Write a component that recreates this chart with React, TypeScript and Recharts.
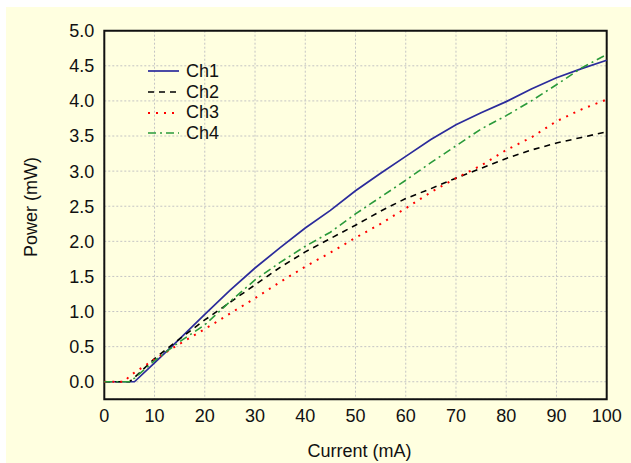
import { LineChart, Line, XAxis, YAxis, CartesianGrid, ReferenceArea, Legend, Label } from 'recharts'

const current = [0, 4, 5, 6, 10, 15, 20, 25, 30, 35, 40, 45, 50, 55, 60, 65, 70, 75, 80, 85, 90, 95, 100]
const ch1 = [0, 0, 0, 0, 0.27, 0.61, 0.96, 1.3, 1.62, 1.91, 2.19, 2.44, 2.72, 2.97, 3.21, 3.45, 3.66, 3.83, 3.99, 4.17, 4.33, 4.46, 4.58]
const ch2 = [0, 0, 0, 0.06, 0.33, 0.61, 0.88, 1.13, 1.38, 1.63, 1.85, 2.04, 2.23, 2.43, 2.61, 2.75, 2.9, 3.04, 3.18, 3.3, 3.4, 3.48, 3.56]
const ch3 = [0, 0, 0.08, 0.13, 0.32, 0.54, 0.75, 0.97, 1.19, 1.42, 1.64, 1.84, 2.05, 2.25, 2.47, 2.7, 2.9, 3.08, 3.3, 3.48, 3.71, 3.88, 4.02]
const ch4 = [0, 0, 0, 0.05, 0.3, 0.57, 0.81, 1.14, 1.45, 1.7, 1.93, 2.13, 2.39, 2.63, 2.87, 3.12, 3.36, 3.6, 3.79, 4.0, 4.23, 4.47, 4.66]

const xTicks = [0, 10, 20, 30, 40, 50, 60, 70, 80, 90, 100]
const yTicks = [0, 0.5, 1, 1.5, 2, 2.5, 3, 3.5, 4, 4.5, 5]

const series = [
  { key: 'Ch1', color: '#2b2b9b', dash: undefined, width: 1.7 },
  { key: 'Ch2', color: '#000000', dash: '6 5', width: 1.6 },
  { key: 'Ch3', color: '#ff0000', dash: '2 6', width: 2 },
  { key: 'Ch4', color: '#2a9a3a', dash: '8 4 2 4', width: 1.6 },
]

const data = current.map((c, i) => ({ current: c, Ch1: ch1[i], Ch2: ch2[i], Ch3: ch3[i], Ch4: ch4[i] }))

const font = '"Liberation Sans", Arial, sans-serif'
const textStyle = { fontSize: 18, fill: '#111', fontFamily: font }

function LegendBox() {
  return (
    <div style={{ fontFamily: font, fontSize: 18, color: '#111' }}>
      {series.map(s => (
        <div key={s.key} style={{ display: 'flex', alignItems: 'center', height: 20.7 }}>
          <svg width={31} height={4} style={{ marginRight: 7 }}>
            <line x1={0} y1={2} x2={31} y2={2} stroke={s.color} strokeWidth={s.width} strokeDasharray={s.dash} />
          </svg>
          <span>{s.key}</span>
        </div>
      ))}
    </div>
  )
}

function YTitle(props: any) {
  const vb = props.viewBox || { x: 38, y: 24, height: 368 }
  const cx = 25
  const cy = vb.y + vb.height / 2 - 8
  return (
    <text x={cx} y={cy} transform={`rotate(-90 ${cx} ${cy})`} textAnchor="middle" dominantBaseline="central" style={textStyle}>
      Power (mW)
    </text>
  )
}

export default function App() {
  return (
    <div style={{ position: 'absolute', left: 6, top: 7, width: 625, height: 456, background: '#ffffe0' }}>
      <LineChart width={625} height={456} data={data} margin={{ top: 23.7, right: 24.3, bottom: 33.7, left: 38.3 }}>
        <CartesianGrid stroke="#c4c4c4" strokeDasharray="2 2" />
        <XAxis
          dataKey="current"
          type="number"
          domain={[0, 100]}
          ticks={xTicks}
          height={30}
          tick={textStyle}
          tickLine={false}
          axisLine={false}
          tickMargin={4}
        >
          <Label value="Current (mA)" position="bottom" offset={15} dx={4} style={textStyle} />
        </XAxis>
        <YAxis
          type="number"
          domain={[-0.25, 5]}
          ticks={yTicks}
          width={60}
          tick={textStyle}
          tickFormatter={(v: number) => v.toFixed(1)}
          tickLine={false}
          axisLine={false}
          tickMargin={4}
        >
          <Label content={<YTitle />} />
        </YAxis>
        {series.map(s => (
          <Line
            key={s.key}
            type="linear"
            dataKey={s.key}
            stroke={s.color}
            strokeWidth={s.width}
            strokeDasharray={s.dash}
            dot={false}
            isAnimationActive={false}
          />
        ))}
        <ReferenceArea x1={0} x2={100} y1={-0.25} y2={5} fill="none" stroke="#111" strokeWidth={2} ifOverflow="visible" />
        <Legend
          layout="horizontal"
          align="center"
          verticalAlign="middle"
          content={<LegendBox />}
          wrapperStyle={{ left: 142, top: 54, width: 'auto', height: 'auto' }}
        />
      </LineChart>
    </div>
  )
}
